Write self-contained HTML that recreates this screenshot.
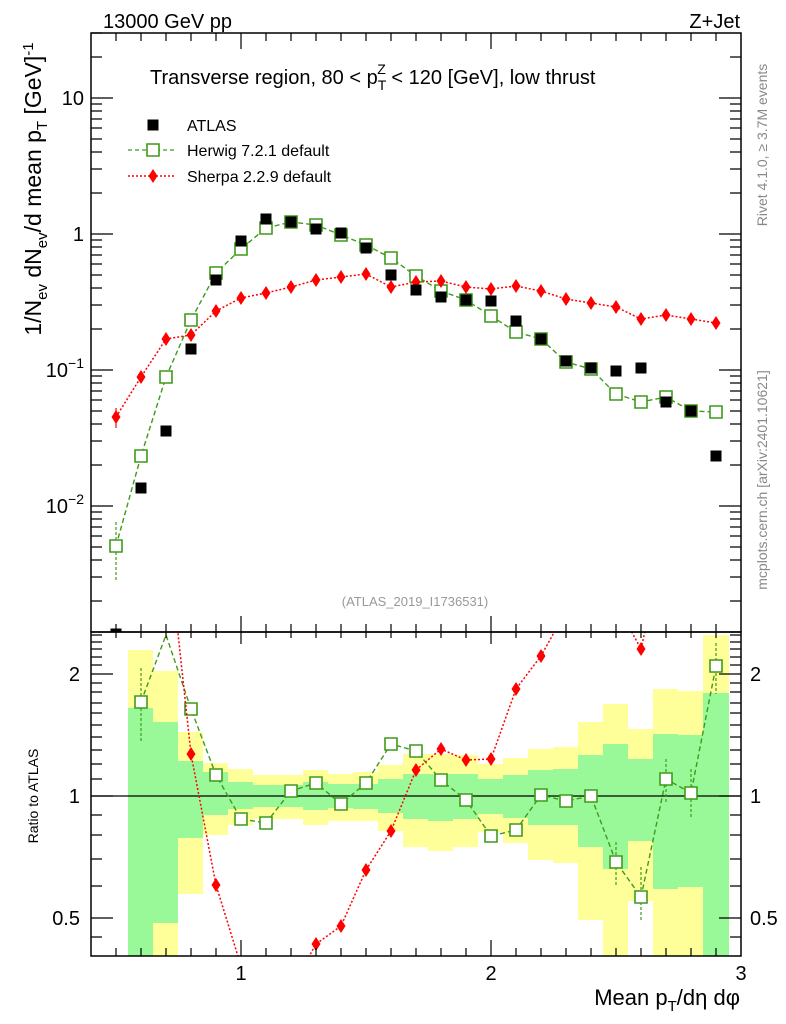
<!DOCTYPE html>
<html><head><meta charset="utf-8"><style>
html,body{margin:0;padding:0;background:#fff}
svg{display:block;font-family:"Liberation Sans",sans-serif}
</style></head><body>
<svg width="786" height="1024" viewBox="0 0 786 1024" xmlns="http://www.w3.org/2000/svg">
<defs>
<clipPath id="cm"><rect x="91" y="33" width="650" height="599"/></clipPath>
<clipPath id="cr"><rect x="91" y="632" width="650" height="324"/></clipPath>
<path id="sq" d="M-6,-6H6V6H-6Z" fill="#fff" stroke="#3f9a1a" stroke-width="1.6"/>
<path id="bs" d="M-5.5,-5.5H5.5V5.5H-5.5Z" fill="#000"/>
<path id="dm" d="M0,-7L4.5,0L0,7L-4.5,0Z" fill="#f00"/>
</defs>

<g clip-path="url(#cr)">
<g fill="#ffff99">
<rect x="128" y="650" width="25" height="306"/><rect x="153" y="671" width="25" height="285"/>
<rect x="178" y="732" width="25" height="162"/><rect x="203" y="763" width="25" height="72"/>
<rect x="228" y="769" width="25" height="56"/><rect x="253" y="775" width="25" height="44"/>
<rect x="278" y="775" width="25" height="44"/><rect x="303" y="770" width="25" height="55"/>
<rect x="328" y="774" width="25" height="47"/><rect x="353" y="772" width="25" height="49"/>
<rect x="378" y="765" width="25" height="66"/><rect x="403" y="754" width="25" height="93"/>
<rect x="428" y="754" width="25" height="97"/><rect x="453" y="755" width="25" height="92"/>
<rect x="478" y="764" width="25" height="68"/><rect x="503" y="758" width="25" height="85"/>
<rect x="528" y="749" width="25" height="111"/><rect x="553" y="747" width="25" height="116"/>
<rect x="578" y="722" width="25" height="198"/><rect x="603" y="704" width="25" height="252"/>
<rect x="628" y="729" width="25" height="172"/><rect x="653" y="689" width="25" height="267"/>
<rect x="678" y="691" width="25" height="265"/><rect x="703" y="635" width="26" height="321"/>
</g>
<g fill="#99f999">
<rect x="128" y="708" width="25" height="248"/><rect x="153" y="722" width="25" height="201"/>
<rect x="178" y="761" width="25" height="77"/><rect x="203" y="772" width="25" height="43"/>
<rect x="228" y="782" width="25" height="27"/><rect x="253" y="785" width="25" height="22"/>
<rect x="278" y="785" width="25" height="22"/><rect x="303" y="782" width="25" height="28"/>
<rect x="328" y="784" width="25" height="24"/><rect x="353" y="784" width="25" height="25"/>
<rect x="378" y="779" width="25" height="34"/><rect x="403" y="774" width="25" height="45"/>
<rect x="428" y="774" width="25" height="47"/><rect x="453" y="774" width="25" height="45"/>
<rect x="478" y="779" width="25" height="35"/><rect x="503" y="775" width="25" height="43"/>
<rect x="528" y="770" width="25" height="55"/><rect x="553" y="769" width="25" height="56"/>
<rect x="578" y="755" width="25" height="92"/><rect x="603" y="744" width="25" height="125"/>
<rect x="628" y="759" width="25" height="82"/><rect x="653" y="734" width="25" height="155"/>
<rect x="678" y="735" width="25" height="152"/><rect x="703" y="693" width="26" height="263"/>
</g>
<line x1="91" y1="796" x2="741" y2="796" stroke="#000" stroke-width="1.3"/>
<polyline fill="none" stroke="#3f9a1a" stroke-width="1.4" stroke-dasharray="5,3" points="141,702 166,635 191,709 216,775 241,819 266,823 291,791 316,783 341,804 366,783 391,744 416,751 441,780 466,800 491,836 516,830 541,795 566,801 591,796 616,862 641,897 666,779 691,793 716,666"/>
<g stroke="#3f9a1a" stroke-width="1.2" stroke-dasharray="3,2">
<line x1="141" y1="668" x2="141" y2="742"/><line x1="616" y1="842" x2="616" y2="885"/>
<line x1="641" y1="867" x2="641" y2="922"/><line x1="666" y1="759" x2="666" y2="803"/>
<line x1="691" y1="769" x2="691" y2="818"/><line x1="716" y1="643" x2="716" y2="694"/>
</g>
<g>
<use href="#sq" x="141" y="702"/><use href="#sq" x="191" y="709"/><use href="#sq" x="216" y="775"/>
<use href="#sq" x="241" y="819"/><use href="#sq" x="266" y="823"/><use href="#sq" x="291" y="791"/>
<use href="#sq" x="316" y="783"/><use href="#sq" x="341" y="804"/><use href="#sq" x="366" y="783"/>
<use href="#sq" x="391" y="744"/><use href="#sq" x="416" y="751"/><use href="#sq" x="441" y="780"/>
<use href="#sq" x="466" y="800"/><use href="#sq" x="491" y="836"/><use href="#sq" x="516" y="830"/>
<use href="#sq" x="541" y="795"/><use href="#sq" x="566" y="801"/><use href="#sq" x="591" y="796"/>
<use href="#sq" x="616" y="862"/><use href="#sq" x="641" y="897"/><use href="#sq" x="666" y="779"/>
<use href="#sq" x="691" y="793"/><use href="#sq" x="716" y="666"/>
</g>
<polyline fill="none" stroke="#f00" stroke-width="1.5" stroke-dasharray="2,2" points="166,522 191,754 216,885 241,966 266,1016 291,989 316,944 341,926 366,870 391,831 416,770 441,749 466,760 491,759 516,689 541,656 566,611 591,603 616,603 641,649 666,537"/>
<g>
<use href="#dm" x="191" y="754"/><use href="#dm" x="216" y="885"/><use href="#dm" x="316" y="944"/>
<use href="#dm" x="341" y="926"/><use href="#dm" x="366" y="870"/><use href="#dm" x="391" y="831"/>
<use href="#dm" x="416" y="770"/><use href="#dm" x="441" y="749"/><use href="#dm" x="466" y="760"/>
<use href="#dm" x="491" y="759"/><use href="#dm" x="516" y="689"/><use href="#dm" x="541" y="656"/>
<use href="#dm" x="641" y="649"/>
</g>
</g>

<g clip-path="url(#cm)">
<polyline fill="none" stroke="#f00" stroke-width="1.5" stroke-dasharray="2,2" points="116,417 141,377 166,339 191,335 216,311 241,298 266,293 291,287 316,280 341,277 366,274 391,287 416,282 441,281 466,287 491,289 516,286 541,291 566,299 591,303 616,307 641,319 666,315 691,319 716,323"/>
<polyline fill="none" stroke="#3f9a1a" stroke-width="1.4" stroke-dasharray="5,3" points="116,546 141,456 166,377 191,320 216,273 241,249 266,228 291,222 316,225 341,235 366,245 391,258 416,276 441,291 466,300 491,316 516,332 541,339 566,362 591,369 616,394 641,402 666,397 691,411 716,412"/>
<line x1="116" y1="522" x2="116" y2="582" stroke="#3f9a1a" stroke-width="1.2" stroke-dasharray="3,2"/>
<line x1="116" y1="408" x2="116" y2="428" stroke="#f00" stroke-width="1.2"/>
<g>
<use href="#sq" x="116" y="546"/><use href="#sq" x="141" y="456"/><use href="#sq" x="166" y="377"/>
<use href="#sq" x="191" y="320"/><use href="#sq" x="216" y="273"/><use href="#sq" x="241" y="249"/>
<use href="#sq" x="266" y="228"/><use href="#sq" x="291" y="222"/><use href="#sq" x="316" y="225"/>
<use href="#sq" x="341" y="235"/><use href="#sq" x="366" y="245"/><use href="#sq" x="391" y="258"/>
<use href="#sq" x="416" y="276"/><use href="#sq" x="441" y="291"/><use href="#sq" x="466" y="300"/>
<use href="#sq" x="491" y="316"/><use href="#sq" x="516" y="332"/><use href="#sq" x="541" y="339"/>
<use href="#sq" x="566" y="362"/><use href="#sq" x="591" y="369"/><use href="#sq" x="616" y="394"/>
<use href="#sq" x="641" y="402"/><use href="#sq" x="666" y="397"/><use href="#sq" x="691" y="411"/>
<use href="#sq" x="716" y="412"/>
</g>
<g>
<use href="#dm" x="116" y="417"/><use href="#dm" x="141" y="377"/><use href="#dm" x="166" y="339"/>
<use href="#dm" x="191" y="335"/><use href="#dm" x="216" y="311"/><use href="#dm" x="241" y="298"/>
<use href="#dm" x="266" y="293"/><use href="#dm" x="291" y="287"/><use href="#dm" x="316" y="280"/>
<use href="#dm" x="341" y="277"/><use href="#dm" x="366" y="274"/><use href="#dm" x="391" y="287"/>
<use href="#dm" x="416" y="282"/><use href="#dm" x="441" y="281"/><use href="#dm" x="466" y="287"/>
<use href="#dm" x="491" y="289"/><use href="#dm" x="516" y="286"/><use href="#dm" x="541" y="291"/>
<use href="#dm" x="566" y="299"/><use href="#dm" x="591" y="303"/><use href="#dm" x="616" y="307"/>
<use href="#dm" x="641" y="319"/><use href="#dm" x="666" y="315"/><use href="#dm" x="691" y="319"/>
<use href="#dm" x="716" y="323"/>
</g>
<g>
<use href="#bs" x="116" y="634"/><use href="#bs" x="141" y="488"/><use href="#bs" x="166" y="431"/>
<use href="#bs" x="191" y="349"/><use href="#bs" x="216" y="280"/><use href="#bs" x="241" y="241"/>
<use href="#bs" x="266" y="219"/><use href="#bs" x="291" y="222"/><use href="#bs" x="316" y="229"/>
<use href="#bs" x="341" y="233"/><use href="#bs" x="366" y="248"/><use href="#bs" x="391" y="275"/>
<use href="#bs" x="416" y="290"/><use href="#bs" x="441" y="297"/><use href="#bs" x="466" y="300"/>
<use href="#bs" x="491" y="301"/><use href="#bs" x="516" y="321"/><use href="#bs" x="541" y="339"/>
<use href="#bs" x="566" y="361"/><use href="#bs" x="591" y="368"/><use href="#bs" x="616" y="371"/>
<use href="#bs" x="641" y="368"/><use href="#bs" x="666" y="402"/><use href="#bs" x="691" y="411"/>
<use href="#bs" x="716" y="456"/>
</g>
</g>

<rect x="91" y="33" width="650" height="599" fill="none" stroke="#000" stroke-width="1.5"/>
<rect x="91" y="632" width="650" height="324" fill="none" stroke="#000" stroke-width="1.5"/>

<g stroke="#000" stroke-width="1.2">
<path d="M116,33v8M141,33v8M166,33v8M191,33v8M216,33v8M266,33v8M291,33v8M316,33v8M341,33v8M366,33v8M391,33v8M416,33v8M441,33v8M466,33v8M516,33v8M541,33v8M566,33v8M591,33v8M616,33v8M641,33v8M666,33v8M691,33v8M716,33v8M241,33v16M491,33v16"/>
<path d="M116,632v-8M141,632v-8M166,632v-8M191,632v-8M216,632v-8M266,632v-8M291,632v-8M316,632v-8M341,632v-8M366,632v-8M391,632v-8M416,632v-8M441,632v-8M466,632v-8M516,632v-8M541,632v-8M566,632v-8M591,632v-8M616,632v-8M641,632v-8M666,632v-8M691,632v-8M716,632v-8M241,632v-16M491,632v-16"/>
<path d="M116,632v6M141,632v6M166,632v6M191,632v6M216,632v6M266,632v6M291,632v6M316,632v6M341,632v6M366,632v6M391,632v6M416,632v6M441,632v6M466,632v6M516,632v6M541,632v6M566,632v6M591,632v6M616,632v6M641,632v6M666,632v6M691,632v6M716,632v6M241,632v12M491,632v12"/>
<path d="M116,956v-8M141,956v-8M166,956v-8M191,956v-8M216,956v-8M266,956v-8M291,956v-8M316,956v-8M341,956v-8M366,956v-8M391,956v-8M416,956v-8M441,956v-8M466,956v-8M516,956v-8M541,956v-8M566,956v-8M591,956v-8M616,956v-8M641,956v-8M666,956v-8M691,956v-8M716,956v-8M241,956v-16M491,956v-16"/>
<path d="M91,98h22M91,234h22M91,370h22M91,506h22"/>
<path d="M91,57h11M91,33h11M91,193h11M91,169h11M91,152h11M91,139h11M91,128h11M91,119h11M91,111h11M91,104h11M91,329h11M91,305h11M91,288h11M91,275h11M91,264h11M91,255h11M91,247h11M91,240h11M91,465h11M91,441h11M91,424h11M91,411h11M91,400h11M91,391h11M91,383h11M91,376h11M91,601h11M91,577h11M91,560h11M91,547h11M91,536h11M91,527h11M91,519h11M91,512h11"/>
<path d="M741,98h-22M741,234h-22M741,370h-22M741,506h-22"/>
<path d="M741,57h-11M741,193h-11M741,169h-11M741,152h-11M741,139h-11M741,128h-11M741,119h-11M741,111h-11M741,104h-11M741,329h-11M741,305h-11M741,288h-11M741,275h-11M741,264h-11M741,255h-11M741,247h-11M741,240h-11M741,465h-11M741,441h-11M741,424h-11M741,411h-11M741,400h-11M741,391h-11M741,383h-11M741,376h-11M741,601h-11M741,577h-11M741,560h-11M741,547h-11M741,536h-11M741,527h-11M741,519h-11M741,512h-11"/>
<path d="M91,674h22M91,796h22M91,918h22M741,674h-22M741,796h-22M741,918h-22"/>
<path d="M91,937h11M91,886h11M91,859h11M91,835h11M91,815h11M91,779h11M91,764h11M91,750h11M91,737h11M91,725h11M91,713h11M91,703h11M91,692h11M91,683h11M91,665h11M91,657h11M91,649h11M91,642h11M91,635h11"/>
<path d="M741,937h-11M741,886h-11M741,859h-11M741,835h-11M741,815h-11M741,779h-11M741,764h-11M741,750h-11M741,737h-11M741,725h-11M741,713h-11M741,703h-11M741,692h-11M741,683h-11M741,665h-11M741,657h-11M741,649h-11M741,642h-11M741,635h-11"/>
</g>

<g font-size="20" fill="#000">
<text x="103" y="28">13000 GeV pp</text>
<text x="740" y="28" text-anchor="end">Z+Jet</text>
<text x="84" y="105" text-anchor="end">10</text>
<text x="84" y="241" text-anchor="end">1</text>
<text x="84" y="377" text-anchor="end">10<tspan font-size="14" dy="-9">−1</tspan></text>
<text x="84" y="513" text-anchor="end">10<tspan font-size="14" dy="-9">−2</tspan></text>
<text x="241" y="980" text-anchor="middle">1</text>
<text x="491" y="980" text-anchor="middle">2</text>
<text x="741" y="980" text-anchor="middle">3</text>
<text x="80" y="681" text-anchor="end">2</text>
<text x="80" y="803" text-anchor="end">1</text>
<text x="80" y="925" text-anchor="end">0.5</text>
<text x="750" y="681">2</text>
<text x="750" y="803">1</text>
<text x="750" y="925">0.5</text>
<text x="150" y="84">Transverse region, 80 &lt; p<tspan font-size="14" dy="6">T</tspan><tspan font-size="14" dx="-9" dy="-16">Z</tspan><tspan dy="10"> &lt; 120 [GeV], low thrust</tspan></text>
<text x="740" y="1005" text-anchor="end" font-size="22">Mean p<tspan font-size="15" dy="6">T</tspan><tspan dy="-6">/dη dφ</tspan></text>
<text transform="translate(41,189) rotate(-90)" text-anchor="middle" font-size="23">1/N<tspan font-size="15" dy="6">ev</tspan><tspan dy="-6"> dN</tspan><tspan font-size="15" dy="6">ev</tspan><tspan dy="-6">/d mean p</tspan><tspan font-size="15" dy="6">T</tspan><tspan dy="-6"> [GeV]</tspan><tspan font-size="15" dy="-8">-1</tspan></text>
</g>
<text transform="translate(38,796) rotate(-90)" text-anchor="middle" font-size="14">Ratio to ATLAS</text>
<g font-size="16">
<use href="#bs" x="153" y="125"/>
<text x="187" y="131">ATLAS</text>
<line x1="128" y1="150" x2="175" y2="150" stroke="#3f9a1a" stroke-width="1.3" stroke-dasharray="4,3"/>
<use href="#sq" x="153" y="150"/>
<text x="187" y="156">Herwig 7.2.1 default</text>
<line x1="128" y1="176" x2="175" y2="176" stroke="#f00" stroke-width="1.4" stroke-dasharray="2,2"/>
<use href="#dm" x="153" y="176"/>
<text x="187" y="182">Sherpa 2.2.9 default</text>
</g>
<text x="415" y="606" text-anchor="middle" font-size="13" fill="#999">(ATLAS_2019_I1736531)</text>
<text transform="translate(767,145) rotate(-90)" text-anchor="middle" font-size="14" fill="#888">Rivet 4.1.0, ≥ 3.7M events</text>
<text transform="translate(767,480) rotate(-90)" text-anchor="middle" font-size="14" fill="#888">mcplots.cern.ch [arXiv:2401.10621]</text>
</svg>
</body></html>
